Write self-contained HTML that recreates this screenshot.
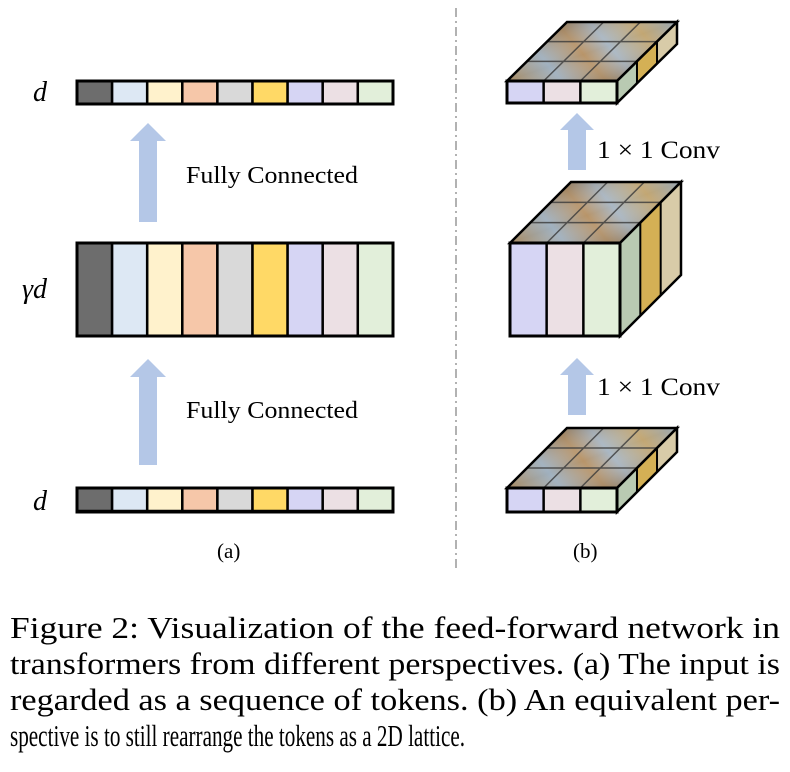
<!DOCTYPE html>
<html><head><meta charset="utf-8"><style>
html,body{margin:0;padding:0;background:#fff;}
svg{display:block;}
text{font-family:"Liberation Serif",serif;fill:#000;}
</style></head><body>
<svg width="790" height="772" viewBox="0 0 790 772" xmlns="http://www.w3.org/2000/svg">
<defs>
<linearGradient id="tex" x1="0" y1="0" x2="1" y2="1">
<stop offset="0" stop-color="#a88a60"/>
<stop offset="0.25" stop-color="#9fb0bf"/>
<stop offset="0.45" stop-color="#b89468"/>
<stop offset="0.6" stop-color="#a9b7c4"/>
<stop offset="0.8" stop-color="#c2a672"/>
<stop offset="1" stop-color="#9aa9b6"/>
</linearGradient>
<linearGradient id="tex2" x1="1" y1="0" x2="0" y2="1">
<stop offset="0" stop-color="#6b5a45" stop-opacity="0.35"/>
<stop offset="0.5" stop-color="#ffffff" stop-opacity="0"/>
<stop offset="1" stop-color="#5a4a38" stop-opacity="0.35"/>
</linearGradient>
<g id="top">
<rect x="0" y="0" width="1" height="1" fill="url(#tex)"/>
<rect x="0" y="0" width="1" height="1" fill="url(#tex2)"/>
<path d="M0.333,0V1M0.667,0V1M0,0.333H1M0,0.667H1" stroke="#3a3a3a" stroke-width="1.5" vector-effect="non-scaling-stroke" fill="none" opacity="0.8"/>
<rect x="0" y="0" width="1" height="1" fill="none" stroke="#000" stroke-width="2.5" vector-effect="non-scaling-stroke"/>
</g>
<g id="side">
<rect x="0" y="0" width="0.334" height="1" fill="#b9cab2"/>
<rect x="0.333" y="0" width="0.334" height="1" fill="#d4b055"/>
<rect x="0.667" y="0" width="0.333" height="1" fill="#d8cba8"/>
<path d="M0.333,0V1M0.667,0V1" stroke="#000" stroke-width="2" vector-effect="non-scaling-stroke"/>
<rect x="0" y="0" width="1" height="1" fill="none" stroke="#000" stroke-width="2.5" vector-effect="non-scaling-stroke"/>
</g>
<g id="front">
<rect x="0" y="0" width="0.334" height="1" fill="#d6d5f4"/>
<rect x="0.333" y="0" width="0.334" height="1" fill="#ece0e4"/>
<rect x="0.667" y="0" width="0.333" height="1" fill="#e2efda"/>
<path d="M0.333,0V1M0.667,0V1" stroke="#000" stroke-width="2.5" vector-effect="non-scaling-stroke"/>
<rect x="0" y="0" width="1" height="1" fill="none" stroke="#000" stroke-width="3" vector-effect="non-scaling-stroke"/>
</g>
</defs>

<line x1="456" y1="8" x2="456" y2="572" stroke="#999" stroke-width="1.5" stroke-dasharray="9,4,2,4"/>

<g stroke="#000" stroke-width="2.5">
<g id="cellsTop">
<rect x="77" y="81" width="35.1" height="23" fill="#6d6d6d"/>
<rect x="112.1" y="81" width="35.1" height="23" fill="#dde8f4"/>
<rect x="147.2" y="81" width="35.1" height="23" fill="#fff2cc"/>
<rect x="182.3" y="81" width="35.1" height="23" fill="#f6c7a9"/>
<rect x="217.4" y="81" width="35.1" height="23" fill="#d9d9d9"/>
<rect x="252.5" y="81" width="35.1" height="23" fill="#ffd966"/>
<rect x="287.6" y="81" width="35.1" height="23" fill="#d6d5f4"/>
<rect x="322.7" y="81" width="35.1" height="23" fill="#ece0e4"/>
<rect x="357.8" y="81" width="35.2" height="23" fill="#e2efda"/>
</g>
<rect x="77" y="243" width="35.1" height="93" fill="#6d6d6d"/>
<rect x="112.1" y="243" width="35.1" height="93" fill="#dde8f4"/>
<rect x="147.2" y="243" width="35.1" height="93" fill="#fff2cc"/>
<rect x="182.3" y="243" width="35.1" height="93" fill="#f6c7a9"/>
<rect x="217.4" y="243" width="35.1" height="93" fill="#d9d9d9"/>
<rect x="252.5" y="243" width="35.1" height="93" fill="#ffd966"/>
<rect x="287.6" y="243" width="35.1" height="93" fill="#d6d5f4"/>
<rect x="322.7" y="243" width="35.1" height="93" fill="#ece0e4"/>
<rect x="357.8" y="243" width="35.2" height="93" fill="#e2efda"/>
<use href="#cellsTop" transform="translate(0,407)"/>
</g>
<rect x="77" y="81" width="316" height="23" fill="none" stroke="#000" stroke-width="3"/>
<rect x="77" y="243" width="316" height="93" fill="none" stroke="#000" stroke-width="3"/>
<rect x="77" y="488" width="316" height="24" fill="none" stroke="#000" stroke-width="3"/>

<path d="M139,222V141H130L148,123L166,141H157V222Z" fill="#b4c7e7"/>
<path d="M139,465V377H130L148,359L166,377H157V465Z" fill="#b4c7e7"/>

<text x="33" y="101" font-size="28" font-style="italic">d</text>
<text x="22" y="298" font-size="28" font-style="italic">γd</text>
<text x="33" y="510" font-size="28" font-style="italic">d</text>
<text x="186" y="183" font-size="24" textLength="172" lengthAdjust="spacingAndGlyphs">Fully Connected</text>
<text x="186" y="418" font-size="24" textLength="172" lengthAdjust="spacingAndGlyphs">Fully Connected</text>
<text x="217" y="558" font-size="21">(a)</text>

<use href="#top" transform="matrix(110,0,60,-59,507,81)"/>
<use href="#side" transform="matrix(60,-59,0,22,617,81)"/>
<use href="#front" transform="matrix(110,0,0,22,507,81)"/>

<use href="#top" transform="matrix(110,0,61,-61,510,243)"/>
<use href="#side" transform="matrix(61,-61,0,93,620,243)"/>
<use href="#front" transform="matrix(110,0,0,93,510,243)"/>

<use href="#top" transform="matrix(110,0,60,-60,507,488)"/>
<use href="#side" transform="matrix(60,-60,0,24,617,488)"/>
<use href="#front" transform="matrix(110,0,0,24,507,488)"/>

<path d="M568,170V130H560L577,113L594,130H586V170Z" fill="#b4c7e7"/>
<path d="M568,415V375H560L577,358L594,375H586V415Z" fill="#b4c7e7"/>
<text x="597" y="158" font-size="25" textLength="123" lengthAdjust="spacingAndGlyphs">1 × 1 Conv</text>
<text x="597" y="395" font-size="25" textLength="123" lengthAdjust="spacingAndGlyphs">1 × 1 Conv</text>
<text x="573" y="558" font-size="21">(b)</text>

<g font-size="31">
<text x="10" y="638" textLength="770" lengthAdjust="spacingAndGlyphs">Figure 2:  Visualization of the feed-forward network in</text>
<text x="10" y="674" textLength="770" lengthAdjust="spacingAndGlyphs">transformers from different perspectives.  (a) The input is</text>
<text x="10" y="710" textLength="770" lengthAdjust="spacingAndGlyphs">regarded as a sequence of tokens.  (b) An equivalent per-</text>
<text x="10" y="746" textLength="455" lengthAdjust="spacingAndGlyphs">spective is to still rearrange the tokens as a 2D lattice.</text>
</g>
</svg>
</body></html>
